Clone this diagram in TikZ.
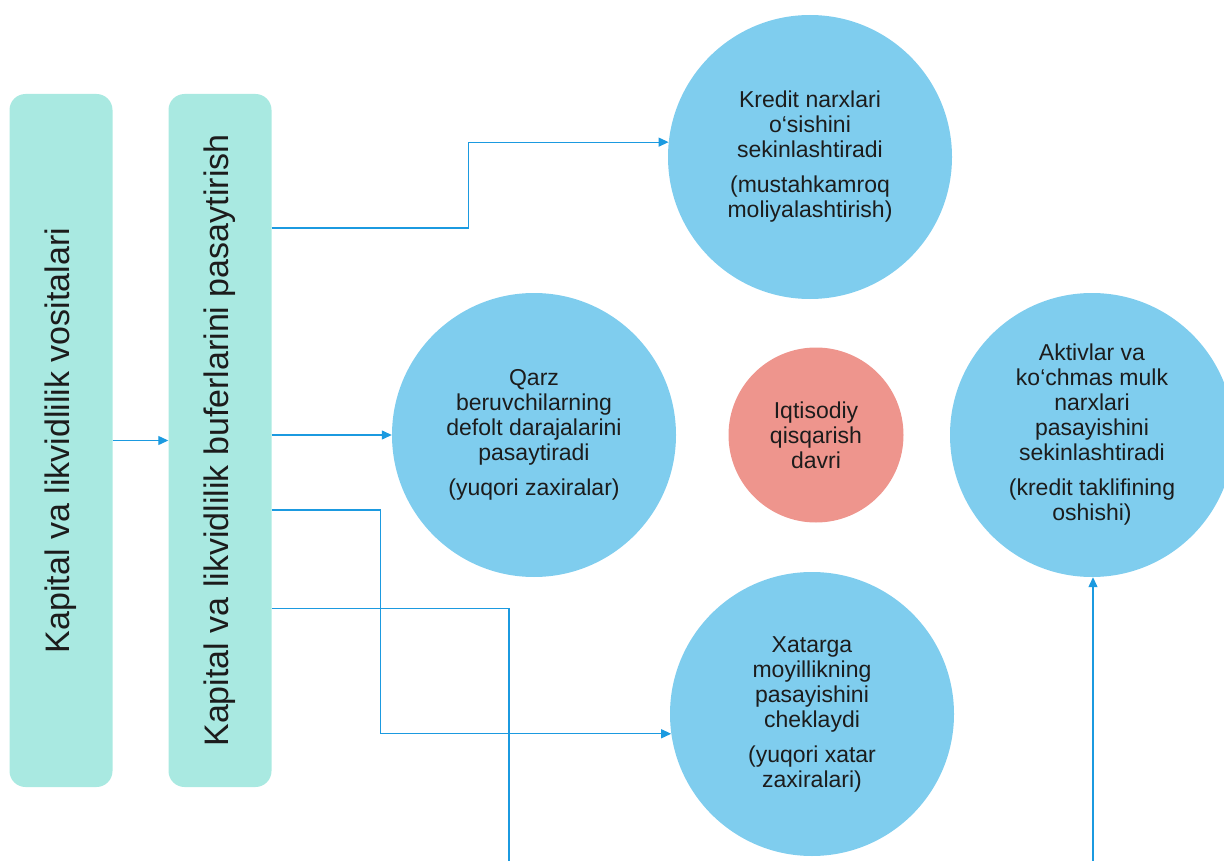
\documentclass[tikz,border=0pt]{standalone}
\usepackage{fontspec}
\setmainfont{Liberation Sans}
\usetikzlibrary{arrows.meta}
\definecolor{levergreen}{HTML}{A9E9E1}
\definecolor{effectblue}{HTML}{7FCDEE}
\definecolor{phasered}{HTML}{EE958D}
\definecolor{linkblue}{HTML}{1B9AE0}
\definecolor{inktext}{HTML}{1C1C1C}

\begin{document}
\begin{tikzpicture}[
    x=1pt, y=-1pt,
    text=inktext,
    lever/.style={%
        fill=levergreen, rounded corners=16pt,
        minimum width=103pt, minimum height=693pt},
    leverlabel/.style={%
        rotate=90, font=\fontsize{34}{40}\selectfont},
    effect/.style={%
        circle, fill=effectblue, minimum size=284pt, inner sep=0pt,
        align=center, font=\fontsize{23}{25}\selectfont},
    phase/.style={%
        circle, fill=phasered, minimum size=175pt, inner sep=0pt,
        align=center, font=\fontsize{23}{25}\selectfont},
    link/.style={%
        draw=linkblue, line width=1.2pt, -{Triangle[length=10pt,width=9pt]}},
    plain link/.style={draw=linkblue, line width=1.2pt},
]
    \path[use as bounding box, clip] (0,0) rectangle (1224,861);

    % Levers
    \node[lever, label={[leverlabel]center:Kapital va likvidlilik vositalari}] (tools) at (61,440.5) {};
    \node[lever, label={[leverlabel]center:Kapital va likvidlilik buferlarini pasaytirish}] (buffer) at (220,440.5) {};

    % Effects
    \node[effect] (credit) at (810,157) {Kredit narxlari\\o‘sishini\\sekinlashtiradi\\[10pt](mustahkamroq\\moliyalashtirish)};
    \node[effect] (default) at (534,435) {Qarz\\beruvchilarning\\defolt darajalarini\\pasaytiradi\\[10pt](yuqori zaxiralar)};
    \node[phase] (cycle) at (816,435) {Iqtisodiy\\qisqarish\\davri};
    \node[effect] (assets) at (1092,435) {Aktivlar va\\ko‘chmas mulk\\narxlari\\pasayishini\\sekinlashtiradi\\[10pt](kredit taklifining\\oshishi)};
    \node[effect] (risk) at (812,714) {Xatarga\\moyillikning\\pasayishini\\cheklaydi\\[10pt](yuqori xatar\\zaxiralari)};

    % Free ends below the page
    \coordinate (down) at (509,875);
    \coordinate (up) at (1093,875);

    % Connectors
    \draw[link] (tools.east) -- (buffer.west);
    \draw[link] ([yshift=212.5pt]buffer.east) -- ++(197,0) |- (credit.174);
    \draw[link] (buffer.east |- default.west) -- (default.west);
    \draw[link] ([yshift=-69.5pt]buffer.east) -- ++(109,0) |- (risk.188);
    \draw[plain link] ([yshift=-168pt]buffer.east) -| (down);
    \draw[link] (up) -- (up |- assets.south);
\end{tikzpicture}
\end{document}
